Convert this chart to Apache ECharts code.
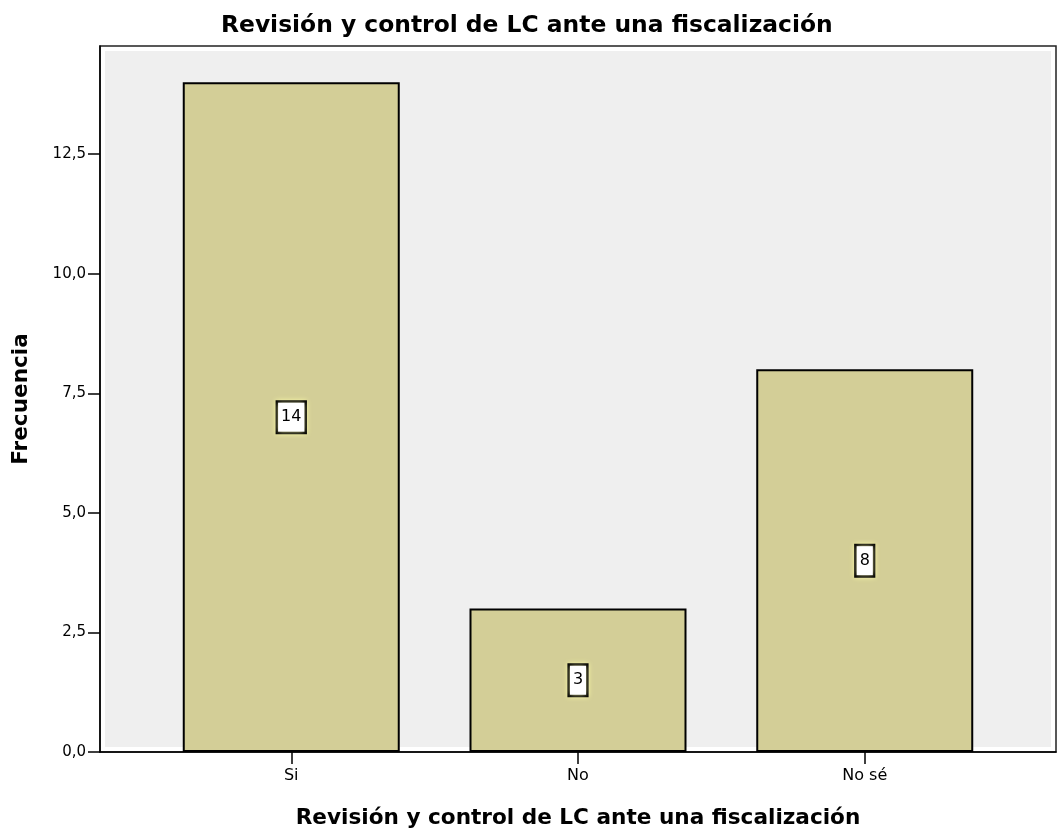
<!DOCTYPE html>
<html>
<head>
<meta charset="utf-8">
<script src="https://cdn.jsdelivr.net/npm/echarts@6/dist/echarts.min.js"></script>
<style>
  html, body { margin: 0; padding: 0; background: #fff; }
  #chart { width: 1058px; height: 834px; }
</style>
</head>
<body>
<div id="chart"></div>
<script>
const chartTitle = 'Revisión y control de LC ante una fiscalización';
const xAxisTitle = 'Revisión y control de LC ante una fiscalización';
const yAxisTitle = 'Frecuencia';
const categories = ['Si', 'No', 'No sé'];
const frecuencias = [14, 3, 8];
const yTicks = [0, 2.5, 5, 7.5, 10, 12.5];
const yMax = 14.76;

const FONT = 'DejaVu Sans';
const chart = echarts.init(document.getElementById('chart'), null, { renderer: 'canvas' });

const barData = frecuencias.map((v, i) => [i, v]);
const catIdx = categories.map((c, i) => i);

chart.setOption({
  animation: false,
  backgroundColor: '#ffffff',
  title: {
    text: chartTitle,
    left: 216,
    top: 9,
    textStyle: { fontFamily: FONT, fontWeight: 'bold', fontSize: 23.4, color: '#000' }
  },
  grid: [
    { left: 100, top: 46, right: 2, bottom: 82, show: true, backgroundColor: '#ffffff', borderColor: '#222', borderWidth: 1.5 },
    { left: 105, top: 51, right: 7, bottom: 87, show: true, backgroundColor: '#efefef', borderWidth: 0 }
  ],
  xAxis: [{
    gridIndex: 0,
    type: 'value',
    min: -0.667,
    max: 2.667,
    name: xAxisTitle,
    nameLocation: 'middle',
    nameGap: 55,
    nameTextStyle: { fontFamily: FONT, fontWeight: 'bold', fontSize: 21.6, color: '#000' },
    axisLine: { show: true, onZero: false, lineStyle: { color: '#000', width: 1.5 } },
    axisTick: { show: true, length: 12, customValues: catIdx, lineStyle: { color: '#000', width: 1.5 } },
    axisLabel: {
      show: true, customValues: catIdx, margin: 16,
      fontFamily: FONT, fontSize: 16, color: '#000',
      formatter: v => categories[Math.round(v)]
    },
    splitLine: { show: false }
  }, {
    gridIndex: 1, type: 'value', show: false, min: 0, max: 1
  }],
  yAxis: [{
    gridIndex: 0,
    type: 'value',
    min: 0,
    max: yMax,
    name: yAxisTitle,
    nameLocation: 'middle',
    nameGap: 68,
    nameTextStyle: { fontFamily: FONT, fontWeight: 'bold', fontSize: 21.6, color: '#000' },
    axisLine: { show: true, onZero: false, lineStyle: { color: '#000', width: 1.5 } },
    axisTick: { show: true, length: 12, customValues: yTicks, lineStyle: { color: '#000', width: 1.5 } },
    axisLabel: {
      show: true, customValues: yTicks, margin: 14,
      fontFamily: FONT, fontSize: 15, color: '#000',
      formatter: v => v.toFixed(1).replace('.', ',')
    },
    splitLine: { show: false }
  }, {
    gridIndex: 1, type: 'value', show: false, min: 0, max: 1
  }],
  series: [{
    type: 'bar',
    xAxisIndex: 0,
    yAxisIndex: 0,
    data: barData,
    barWidth: 217,
    itemStyle: { color: '#d3ce97', borderColor: '#000', borderWidth: 2 },
    label: {
      show: true,
      position: 'inside',
      formatter: p => String(p.value[1]),
      fontFamily: FONT,
      fontSize: 16,
      color: '#000',
      backgroundColor: '#fff',
      borderColor: '#000',
      borderWidth: 2.5,
      padding: [7, 3, 6, 3],
      shadowColor: 'rgba(255,255,170,0.9)',
      shadowBlur: 5
    },
    z: 3
  }]
});
</script>
</body>
</html>
